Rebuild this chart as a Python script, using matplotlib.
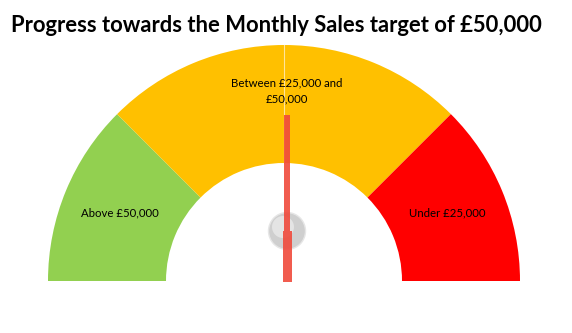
import matplotlib.pyplot as plt
from matplotlib.patches import Circle, Polygon
import numpy as np

plt.rcParams['font.family'] = ['Lato', 'DejaVu Sans']

# gauge bands, left to right (degrees of the half circle each)
bands = ["Above £50,000", "Between £25,000 and\n£50,000", "", "Under £25,000"]
band_sizes = [45, 45, 45, 45]
band_colors = ["#92d050", "#ffc000", "#ffc000", "#ff0000"]
needle_pos = 0.5      # fraction along the dial, 0 = left end, 1 = right end

fig = plt.figure(figsize=(5.72, 3.33), dpi=100)
ax = fig.add_axes([0, 0, 1, 1])

cx, cy = 284, 52
R, r = 236, 118

sizes = band_sizes + [sum(band_sizes)]
colors = band_colors + ["none"]
wedges, _ = ax.pie(sizes, colors=colors, startangle=180, counterclock=False,
                   radius=R, center=(cx, cy), frame=True,
                   wedgeprops=dict(width=R - r, linewidth=0))

# faint split between the two yellow slices
th = np.deg2rad(wedges[1].theta1)
ax.plot([cx + r * np.cos(th), cx + R * np.cos(th)], [cy + r * np.sin(th), cy + R * np.sin(th)],
        color="#ffe49a", lw=0.8, zorder=2)

ax.text(120, 120, bands[0], ha='center', va='center', fontsize=8.2)
ax.text(287, 242, bands[1], ha='center', va='center', fontsize=8.2, linespacing=1.5)
ax.text(447, 120, bands[3], ha='center', va='center', fontsize=8.2)

# hub
hx, hy = 287, 102
ax.add_patch(Circle((hx, hy), 18.5, facecolor="#cfcfcf", edgecolor="#e6e6e6", lw=1, zorder=3))
ax.add_patch(Circle((hx - 4, hy + 4), 11, facecolor="#e4e4e4", edgecolor="none", zorder=3))

# needle
ang = np.deg2rad(180 - 180 * needle_pos)
d = np.array([np.cos(ang), np.sin(ang)])
n = np.array([-d[1], d[0]])
c = np.array([hx, hy])
tip = c + d * 116
tail = c - d * 51
needle = Polygon([tip + n * 3, c + n * 3, c + n * 4.5, tail + n * 4.5,
                  tail - n * 4.5, c - n * 4.5, c - n * 3, tip - n * 3],
                 closed=True, facecolor="#f04a3c", edgecolor="none", alpha=0.9, zorder=4)
ax.add_patch(needle)

ax.set_xlim(0, 572)
ax.set_ylim(0, 333)
ax.set_aspect('auto')
ax.axis('off')

fig.text(0.484, 1 - 25 / 333, "Progress towards the Monthly Sales target of £50,000",
         ha='center', va='center', fontsize=15.8, fontweight='bold')

fig.savefig("out.png", dpi=100, facecolor='white')
